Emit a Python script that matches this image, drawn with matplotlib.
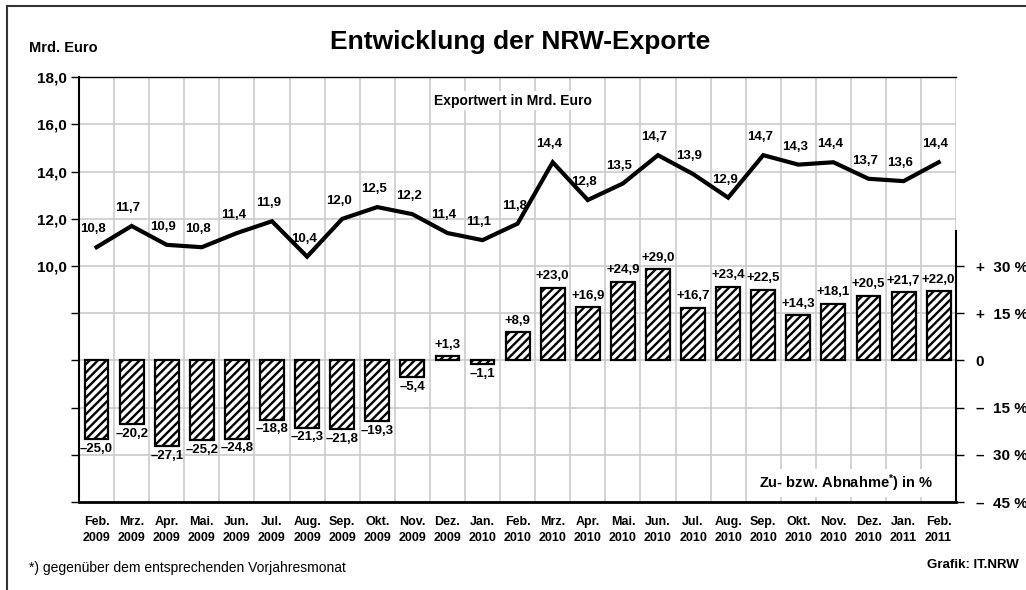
import matplotlib.pyplot as plt
import matplotlib as mpl

plt.rcParams['font.family'] = ['Liberation Sans', 'DejaVu Sans']
plt.rcParams['font.weight'] = 'bold'
plt.rcParams['hatch.linewidth'] = 1.7
plt.rcParams['mathtext.fontset'] = 'custom'
plt.rcParams['mathtext.rm'] = 'Liberation Sans:bold'
plt.rcParams['mathtext.it'] = 'Liberation Sans:bold'

# Daten
monate = ["Feb.\n2009", "Mrz.\n2009", "Apr.\n2009", "Mai.\n2009", "Jun.\n2009",
          "Jul.\n2009", "Aug.\n2009", "Sep.\n2009", "Okt.\n2009", "Nov.\n2009",
          "Dez.\n2009", "Jan.\n2010", "Feb.\n2010", "Mrz.\n2010", "Apr.\n2010",
          "Mai.\n2010", "Jun.\n2010", "Jul.\n2010", "Aug.\n2010", "Sep.\n2010",
          "Okt.\n2010", "Nov.\n2010", "Dez.\n2010", "Jan.\n2011", "Feb.\n2011"]
exportwert = [10.8, 11.7, 10.9, 10.8, 11.4, 11.9, 10.4, 12.0, 12.5, 12.2, 11.4, 11.1,
              11.8, 14.4, 12.8, 13.5, 14.7, 13.9, 12.9, 14.7, 14.3, 14.4, 13.7, 13.6, 14.4]
veraenderung = [-25.0, -20.2, -27.1, -25.2, -24.8, -18.8, -21.3, -21.8, -19.3, -5.4,
                1.3, -1.1, 8.9, 23.0, 16.9, 24.9, 29.0, 16.7, 23.4, 22.5, 14.3, 18.1,
                20.5, 21.7, 22.0]

links_ticks = [0, 2, 4, 6, 8, 10, 12, 14, 16, 18]
links_labels = ["", "", "", "", "", "10,0", "12,0", "14,0", "16,0", "18,0"]
rechts_ticks = [-45, -30, -15, 0, 15, 30]
rechts_labels = ["\u2013  45 %", "\u2013  30 %", "\u2013  15 %", "0", "+  15 %", "+  30 %"]


def fmt(v, sign=False):
    s = f"{abs(v):.1f}".replace(".", ",")
    if sign:
        return ("+" if v >= 0 else "\u2013") + s
    return s


x = list(range(len(monate)))

fig = plt.figure(figsize=(10.26, 5.9), dpi=100)
ax = fig.add_axes([0.077, 0.149, 0.855, 0.72])
ax2 = ax.twinx()

# Gitter
ax.set_xlim(-0.5, len(monate) - 0.5)
ax.set_ylim(0, 18)
ax.set_yticks(links_ticks)
ax.set_yticklabels(links_labels, fontsize=11, fontweight='bold')
ax.set_xticks([i - 0.5 for i in x] + [len(x) - 0.5], minor=True)
ax.set_xticks(x)
ax.set_xticklabels(monate, fontsize=9, fontweight='bold', linespacing=1.5)
ax.tick_params(axis='x', which='major', length=0, pad=10)
ax.tick_params(axis='x', which='minor', length=0)
ax.tick_params(axis='y', direction='out', length=6, width=1, pad=3)
ax.grid(True, which='minor', axis='x', color='#cccccc', lw=1.2)
ax.grid(True, which='major', axis='y', color='#cccccc', lw=1.2)
ax.set_axisbelow(True)
ax.spines['right'].set_visible(False)
ax.spines['left'].set_linewidth(1.5)
ax.spines['bottom'].set_linewidth(2)
ax.spines['top'].set_linewidth(1)

# Linie Exportwert
ax.plot(x, exportwert, color='black', lw=3, solid_joinstyle='miter', zorder=3)
for xi, v in zip(x, exportwert):
    ax.text(xi - 0.1, v + 0.5, fmt(v), ha='center', va='bottom', fontsize=9.5,
            fontweight='bold')

# Balken Veraenderung
ax2.set_ylim(-45, 90)
ax2.bar(x, veraenderung, width=0.68, facecolor='white', edgecolor='black', lw=1.6,
        hatch='////', zorder=2)
for xi, v in zip(x, veraenderung):
    if v >= 0:
        ax2.text(xi, v + 1.8, fmt(v, True), ha='center', va='bottom', fontsize=9.5,
                 fontweight='bold')
    else:
        ax2.text(xi, v - 1.2, fmt(v, True), ha='center', va='top', fontsize=9.5,
                 fontweight='bold')
ax2.set_yticks(rechts_ticks)
ax2.set_yticklabels(rechts_labels, fontsize=11, fontweight='bold')
ax2.tick_params(axis='y', direction='out', length=6, width=1, pad=8)
ax2.spines['right'].set_bounds(-45, 41)
ax2.spines['right'].set_linewidth(1.5)
for s in ['left', 'top', 'bottom']:
    ax2.spines[s].set_visible(False)

ax2.text(0.495, 0.945, "Exportwert in Mrd. Euro", transform=ax2.transAxes, ha='center',
         va='center', fontsize=10, fontweight='bold',
         bbox=dict(facecolor='white', edgecolor='none', pad=2))
ax2.text(0.875, 0.045, "Zu- bzw. Abnahme$^{*}$) in %", transform=ax2.transAxes,
         ha='center', va='center', fontsize=10.5, fontweight='bold',
         bbox=dict(facecolor='white', edgecolor='none', pad=2))

# Beschriftungen
fig.text(0.507, 0.928, "Entwicklung der NRW-Exporte", ha='center', va='center',
         fontsize=19, fontweight='bold')
fig.text(0.028, 0.918, "Mrd. Euro", ha='left', va='center', fontsize=10.5,
         fontweight='bold')
fig.text(0.028, 0.038, "*) gegenüber dem entsprechenden Vorjahresmonat", ha='left',
         va='center', fontsize=10, fontweight='normal')
fig.text(0.993, 0.042, "Grafik: IT.NRW", ha='right', va='center', fontsize=9.5,
         fontweight='bold')

# Rahmen
fig.add_artist(mpl.lines.Line2D([0.007, 0.007], [0.0, 0.989], color='#333333', lw=1.5))
fig.add_artist(mpl.lines.Line2D([0.007, 1.0], [0.989, 0.989], color='#333333', lw=1.5))

fig.savefig("out.png", dpi=100)
